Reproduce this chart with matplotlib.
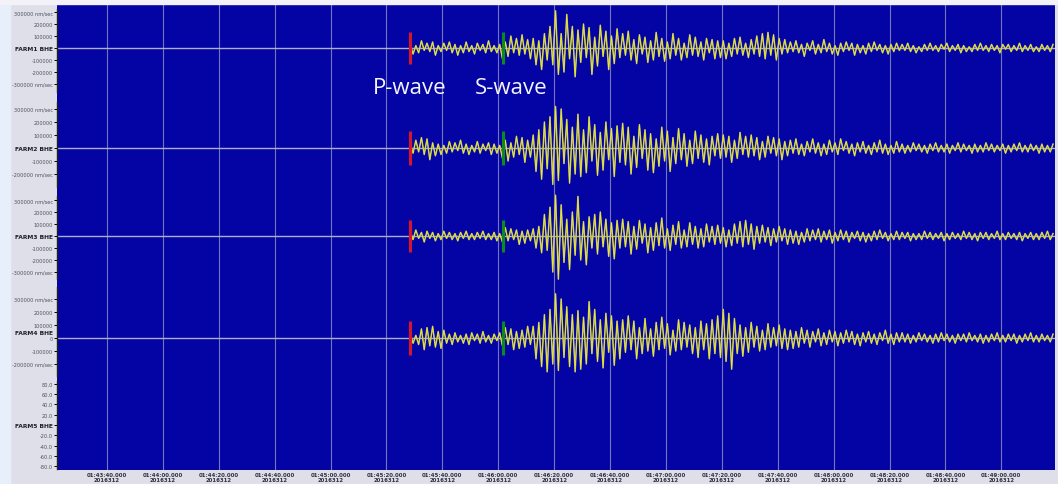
import numpy as np
import matplotlib
matplotlib.use("Agg")
import matplotlib.pyplot as plt

# time axis: seconds after 01:43:00 on 2016312
t_start = 148.5
dt = 1.0
p_time = 148.4
s_time = 181.7
tick_secs = list(range(40, 380, 20))
day_label = "2016312"

stations = ["FARM1 BHE", "FARM2 BHE", "FARM3 BHE", "FARM4 BHE", "FARM5 BHE"]

# alternating peak values, one per second, in 10^4 nm/sec
farm1 = [3, -5, 2, -4, 6, -2, 4, -3, 5, -6, 2, -3, 4, -2, 5, -4, 3, -6, 2, -4, 5, -3, 2, -5, 4, -2, 3, -4, 6, -3, 2, -4, 3,
         -9, 5, -7, 10, -4, 8, -6, 11, -5, 7, -9,
         8, -14, 6, -18, 12, -10,
         18, -14, 31, -22, 12, -20, 28, -9, 18, -24, 15,
         -12, 20, -8, 17, -22, 9, -15, 19, -7, 14, -18, 10, -13, 16, -8,
         12, -6, 14, -10, 7, -13, 11, -5, 9, -12, 6, -10, 13, -7, 8, -11, 5, -9, 12, -6, 8, -10, 4, -8, 11, -6,
         9, -7, 5, -10, 8, -4, 7, -9, 6, -8,
         6, -9, 4, -7, 8, -5, 9, -6, 4, -8, 7, -5, 10, -7, 12, -9, 13, -6, 11, -10, 8, -5, 7, -4,
         5, -3, 6, -4, 3, -7, 4, -2, 6, -5, 3, -4, 7, -3, 4, -5, 2, -6, 4, -3, 5, -2, 4, -6, 3, -4, 2, -5, 4, -3,
         5, -2, 3, -4, 2, -5, 3, -3, 4, -2,
         3, -2, 4, -3, 2, -4, 1, -3, 3, -2, 4, -2, 2, -3, 3, -1, 4, -3, 2, -2, 3, -4, 2, -3, 1, -3, 3, -2, 4, -2,
         2, -3, 3, -2, 2, -4, 3, -1, 3, -3, 2, -2, 4, -3, 2, -2, 3, -3, 1, -3, 3, -2, 2, -3, 3]
farm2 = [3, -4, 6, -3, 8, -5, 7, -9, 4, -6, 3, -5, 2, -4, 5, -3, 4, -2, 6, -4, 3, -5, 2, -3, 5, -4, 3, -2, 4, -5, 3, -4, 2,
         -8, 6, -10, 4, -7, 9, -5, 8, -11, 6, -7,
         10, -18, 14, -24, 20, -16,
         24, -28, 32, -25, 30, -12, 22, -27, 16, -20, 26,
         -22, 14, -19, 24, -10, 18, -21, 12, -17, 20, -9, 15, -22, 17, -11,
         19, -13, 16, -20, 9, -15, 18, -8, 14, -17, 11, -19, 7, -14, 16, -10, 13, -18, 8, -12, 15, -9, 11, -14,
         6, -12, 13, -8, 10, -11, 7, -13, 9, -6, 11, -8,
         10, -7, 9, -11, 6, -8, 12, -5, 9, -7, 10, -6, 8, -9, 5, -7, 9, -4, 8, -6, 7, -9, 5, -6,
         6, -4, 7, -5, 3, -6, 5, -3, 7, -4, 4, -6, 3, -5, 6, -3, 4, -5, 7, -2, 5, -4, 3, -6, 4, -3, 5, -4, 2, -5,
         4, -3, 6, -4, 3, -5, 2, -4, 5, -3,
         3, -4, 2, -3, 4, -2, 3, -3, 2, -4, 3, -2, 4, -3, 2, -3, 3, -4, 2, -2, 4, -3, 3, -2, 2, -4, 3, -3, 2, -3,
         4, -2, 3, -3, 2, -2, 3, -4, 2, -3, 3, -2, 4, -3, 2, -3, 3, -2, 2, -4, 3, -3, 2, -3, 3]
farm3 = [4, -3, 5, -2, 3, -5, 4, -2, 3, -4, 2, -3, 4, -2, 3, -3, 2, -4, 3, -2, 4, -3, 2, -3, 3, -2, 4, -3, 2, -3, 3, -4, 2,
         -5, 7, -4, 6, -3, 5, -7, 4, -6, 5, -4,
         6, -10, 8, -14, 18, -12,
         24, -30, 34, -36, 26, -22, 14, -28, 20, -16, 33,
         -20, 12, -24, 16, -10, 18, -15, 20, -9, 14, -17, 11, -19, 13, -10,
         14, -9, 12, -15, 8, -11, 13, -6, 10, -14, 7, -12, 11, -8, 15, -10, 6, -12, 9, -7, 12, -10, 5, -9,
         11, -7, 8, -10, 6, -9, 10, -5, 8, -7, 9, -6,
         7, -9, 5, -8, 10, -6, 12, -9, 13, -7, 10, -11, 8, -6, 9, -5, 7, -8, 6, -5, 8, -4, 6, -7,
         5, -6, 4, -7, 3, -5, 6, -4, 5, -3, 6, -5, 4, -3, 5, -6, 3, -4, 5, -3, 4, -5, 3, -2, 4, -4, 3, -5, 2, -4,
         4, -3, 5, -2, 3, -4, 2, -3, 4, -3,
         3, -2, 3, -4, 2, -3, 2, -3, 4, -2, 3, -3, 2, -2, 3, -4, 2, -3, 3, -2, 2, -3, 4, -2, 3, -3, 2, -4, 3, -2,
         3, -3, 2, -2, 4, -3, 2, -3, 3, -2, 2, -3, 3, -4, 2, -2, 3, -3, 2, -3, 3, -2, 4, -3, 2]
farm4 = [3, -4, 2, -5, 7, -9, 8, -6, 9, -7, 5, -8, 6, -4, 3, -5, 4, -3, 2, -4, 3, -5, 4, -2, 3, -4, 5, -3, 2, -4, 3, -2, 4,
         -6, 8, -5, 7, -9, 5, -8, 6, -7, 9, -5,
         9, -16, 12, -22, 18, -26,
         22, -20, 34, -25, 30, -15, 24, -22, 18, -26, 21,
         -24, 16, -20, 28, -12, 22, -18, 14, -23, 19, -11, 17, -21, 13, -16,
         14, -11, 17, -9, 13, -16, 8, -12, 15, -10, 7, -14, 12, -9, 16, -8, 11, -13, 6, -10, 14, -9, 12, -7,
         10, -12, 8, -15, 13, -9, 11, -16, 14, -12, 17, -15,
         22, -18, 19, -24, 15, -12, 10, -14, 8, -11, 12, -7, 9, -10, 6, -9, 11, -7, 8, -6, 10, -8, 7, -9,
         6, -8, 5, -7, 8, -4, 6, -7, 5, -3, 7, -6, 4, -5, 6, -3, 5, -6, 4, -4, 6, -3, 5, -5, 3, -6, 4, -3, 5, -4,
         3, -5, 4, -2, 6, -4, 3, -5, 4, -3,
         4, -3, 3, -4, 2, -3, 4, -2, 3, -3, 2, -4, 3, -3, 4, -2, 3, -3, 2, -4, 3, -2, 3, -3, 4, -2, 2, -3, 3, -4,
         2, -3, 3, -2, 4, -3, 2, -3, 3, -2, 3, -4, 2, -3, 3, -2, 4, -3, 2, -3, 3, -2, 2, -3, 3]
traces = [farm1, farm2, farm3, farm4]

ytick_vals = [
    [300000, 200000, 100000, 0, -100000, -200000, -300000],
    [300000, 200000, 100000, 0, -100000, -200000],
    [300000, 200000, 100000, 0, -100000, -200000, -300000],
    [300000, 200000, 100000, 0, -100000, -200000],
    [80, 60, 40, 20, 0, -20, -40, -60, -80],
]

# layout in pixels of the 1058x485 picture
W, H = 1058, 485
panel_px = [(5, 99), (99, 193), (193, 287), (287, 381), (381, 471)]
ylims = [(-416667, 366667), (-338462, 384615), (-416667, 366667), (-323077, 400000), (-87.4, 87.4)]
spine_bounds = [(-367000, 325000), (-300000, 354000), (-358000, 333000), (-292000, 392000), (-86, 86)]
xlim = (22.1, 379.2)
blue = "#0404a4"

fig = plt.figure(figsize=(W / 100, H / 100), dpi=100, facecolor="#dfdfea")
fig.patches.append(plt.Rectangle((0, 0), 10 / W, 1, transform=fig.transFigure,
                                 color="#e6effa", zorder=0))
fig.patches.append(plt.Rectangle((0, 1 - 5 / H), 1, 5 / H, transform=fig.transFigure,
                                 color="#f2f2f8", zorder=0))


def fmt_label(v, i):
    if v == 0:
        return "0" if i == 3 else stations[i]
    if i == 4:
        return "%.1f" % v
    s = "%d" % v
    if v == ytick_vals[i][0] or v == ytick_vals[i][-1]:
        s += " nm/sec"
    return s


axes = []
for i, (y0, y1) in enumerate(panel_px):
    ax = fig.add_axes([57 / W, 1 - y1 / H, 998 / W, (y1 - y0) / H])
    ax.set_facecolor(blue)
    ax.set_xlim(*xlim)
    ax.set_ylim(*ylims[i])
    for side in ["top", "right", "bottom"]:
        ax.spines[side].set_visible(False)
    ax.spines["left"].set_bounds(*spine_bounds[i])
    ax.spines["left"].set_color("#202020")
    ax.spines["left"].set_linewidth(1.0)
    ax.set_xticks(tick_secs)
    ax.grid(axis="x", color="#7474bc", lw=0.8)
    ax.set_axisbelow(True)
    vals = ytick_vals[i]
    ax.set_yticks(vals)
    ax.set_yticklabels([fmt_label(v, i) for v in vals])
    ax.tick_params(axis="y", length=2, width=0.7, pad=1, labelsize=3.6, labelcolor="#505060")
    for v, lab in zip(vals, ax.get_yticklabels()):
        if v == 0 and i != 3:
            lab.set_fontweight("bold")
            lab.set_fontsize(4.3)
            lab.set_color("#202028")
    if i == 3:
        ax.text(-0.004, 45000, stations[3], transform=ax.get_yaxis_transform(),
                ha="right", va="center", fontsize=4.3, fontweight="bold", color="#202028")
    if i < 4:
        ax.axhline(0, color="#aeaecc", lw=1.0, zorder=1)
        ax.tick_params(axis="x", bottom=False, labelbottom=False)
    else:
        ax.set_xticklabels(["01:%02d:%02d.000\n%s" % (43 + s // 60, s % 60, day_label)
                            for s in tick_secs])
        ax.tick_params(axis="x", length=0, pad=1.5, labelsize=3.9, labelcolor="#303040")
        for lab in ax.get_xticklabels():
            lab.set_fontweight("bold")
            lab.set_linespacing(1.1)
    axes.append(ax)

for i, vals in enumerate(traces):
    ax = axes[i]
    amp = np.array(vals) * 1e4
    t = t_start + dt * np.arange(len(amp))
    ax.plot(t, amp, color="#a8a880", lw=1.1, zorder=3, clip_on=False)
    ax.plot(t, amp, color="#ecea2c", lw=0.6, zorder=4, clip_on=False)
    ax.vlines(p_time, -130000, 130000, color="#d81428", lw=2.2, zorder=5)
    ax.vlines(s_time, -130000, 130000, color="#0c8a1c", lw=2.2, zorder=5)

wave_font = ["Open Sans", "DejaVu Sans"]
axes[0].text(p_time, -333000, "P-wave", color="#f4f4fa", fontsize=16,
             family=wave_font, ha="center", va="center", zorder=6)
axes[0].text(184.5, -333000, "S-wave", color="#f4f4fa", fontsize=16,
             family=wave_font, ha="center", va="center", zorder=6)

fig.savefig("out.png", dpi=100, facecolor=fig.get_facecolor())
